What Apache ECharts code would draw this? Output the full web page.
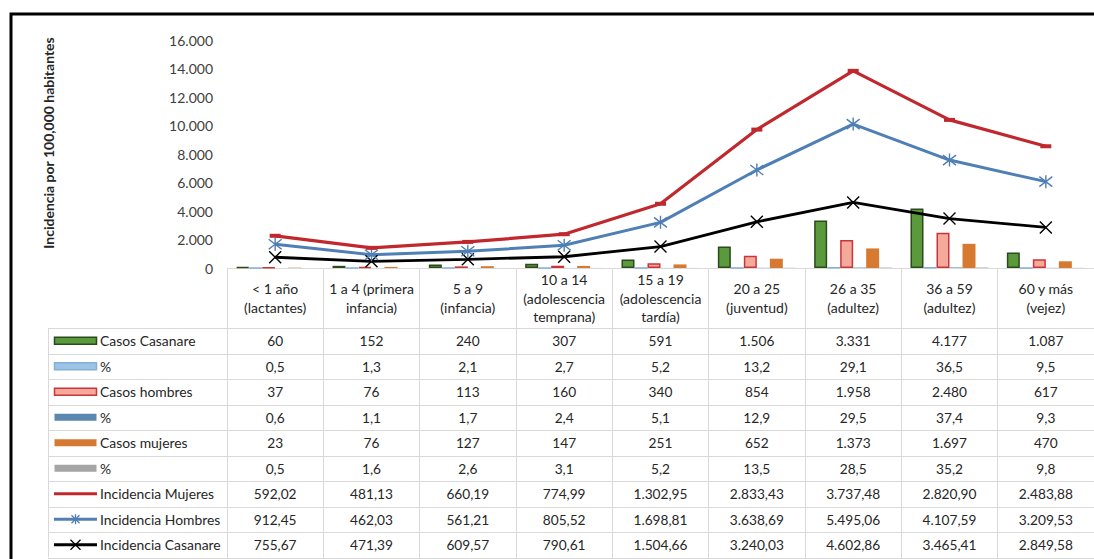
<!DOCTYPE html>
<html>
<head>
<meta charset="utf-8">
<script src="https://cdn.jsdelivr.net/npm/echarts@6/dist/echarts.min.js"></script>
<style>
html,body{margin:0;padding:0;background:#fff;}
#c{width:1094px;height:559px;}
</style>
</head>
<body>
<div id="c"></div>
<script>
const categories = ['< 1 año\n(lactantes)', '1 a 4 (primera\ninfancia)', '5 a 9\n(infancia)', '10 a 14\n(adolescencia\ntemprana)', '15 a 19\n(adolescencia\ntardía)', '20 a 25\n(juventud)', '26 a 35\n(adultez)', '36 a 59\n(adultez)', '60 y más\n(vejez)'];
const casosCasanare = [60, 152, 240, 307, 591, 1506, 3331, 4177, 1087];
const pctCasanare = [0.5, 1.3, 2.1, 2.7, 5.2, 13.2, 29.1, 36.5, 9.5];
const casosHombres = [37, 76, 113, 160, 340, 854, 1958, 2480, 617];
const pctHombres = [0.6, 1.1, 1.7, 2.4, 5.1, 12.9, 29.5, 37.4, 9.3];
const casosMujeres = [23, 76, 127, 147, 251, 652, 1373, 1697, 470];
const pctMujeres = [0.5, 1.6, 2.6, 3.1, 5.2, 13.5, 28.5, 35.2, 9.8];
const incMujeres = [592.02, 481.13, 660.19, 774.99, 1302.95, 2833.43, 3737.48, 2820.90, 2483.88];
const incHombres = [912.45, 462.03, 561.21, 805.52, 1698.81, 3638.69, 5495.06, 4107.59, 3209.53];
const incCasanare = [755.67, 471.39, 609.57, 790.61, 1504.66, 3240.03, 4602.86, 3465.41, 2849.58];
const yTicks = [0, 2000, 4000, 6000, 8000, 10000, 12000, 14000, 16000];

const FONT = 'Lato, "Open Sans", sans-serif';
const C = {
  green: '#5a9a3c', greenB: '#2c4a1c',
  lblue: '#9dc3e6', lblueB: '#86afd6',
  pink: '#f4a99a', pinkB: '#c8363a',
  blue: '#5a87b0',
  orange: '#d57a30',
  gray: '#a5a5a5',
  red: '#c0282d', lineBlue: '#4f7fb4', black: '#000000'
};

function fmt(v, d) {
  const s = v.toFixed(d);
  let parts = s.split('.');
  let i = parts[0].replace(/\B(?=(\d{3})+(?!\d))/g, '.');
  return parts.length > 1 ? i + ',' + parts[1] : i;
}

const rows = [
  {name: 'Casos Casanare', data: casosCasanare, d: 0, kind: 'bar', fill: C.green, border: C.greenB},
  {name: '%', data: pctCasanare, d: 1, kind: 'bar', fill: C.lblue, border: C.lblueB},
  {name: 'Casos hombres', data: casosHombres, d: 0, kind: 'bar', fill: C.pink, border: C.pinkB},
  {name: '%', data: pctHombres, d: 1, kind: 'bar', fill: C.blue, border: null},
  {name: 'Casos mujeres', data: casosMujeres, d: 0, kind: 'bar', fill: C.orange, border: null},
  {name: '%', data: pctMujeres, d: 1, kind: 'bar', fill: C.gray, border: null},
  {name: 'Incidencia Mujeres', data: incMujeres, d: 2, kind: 'line', color: C.red, mark: 'none'},
  {name: 'Incidencia Hombres', data: incHombres, d: 2, kind: 'line', color: C.lineBlue, mark: 'star'},
  {name: 'Incidencia Casanare', data: incCasanare, d: 2, kind: 'line', color: C.black, mark: 'x'}
];

const STAR = 'path://M0,0L10,10M10,0L0,10M5,-1.5L5,11.5';
const XS = 'path://M0,0L10,10M10,0L0,10';

function barSeries(name, data, fill, border) {
  return {
    type: 'bar', name: name, data: data, barWidth: 13, barGap: '0%',
    itemStyle: {color: fill, borderColor: border || fill, borderWidth: border ? 1.5 : 0},
    silent: true
  };
}

const option = {
  animation: false,
  backgroundColor: '#ffffff',
  textStyle: {fontFamily: FONT},
  grid: {left: 227, top: 40, width: 876, height: 228, containLabel: false},
  xAxis: {
    type: 'category',
    data: categories,
    boundaryGap: true,
    axisLine: {show: true, lineStyle: {color: '#d9d9d9', width: 1}},
    axisTick: {show: true, length: 290, lineStyle: {color: '#d9d9d9', width: 1}},
    axisLabel: {
      interval: 0, color: '#262626', fontSize: 14, lineHeight: 18.5,
      margin: 30, verticalAlign: 'middle', fontFamily: FONT
    }
  },
  yAxis: {
    type: 'value', min: 0, max: 16000, interval: 2000,
    axisLine: {show: false}, axisTick: {show: false}, splitLine: {show: false},
    axisLabel: {
      color: '#404040', fontSize: 14, margin: 14, fontFamily: FONT,
      formatter: function (v) { return fmt(v, 0); }
    }
  },
  series: [
    barSeries('Casos Casanare', casosCasanare, C.green, C.greenB),
    barSeries('% Casanare', pctCasanare, C.lblue, C.lblueB),
    barSeries('Casos hombres', casosHombres, C.pink, C.pinkB),
    barSeries('% hombres', pctHombres, C.blue, null),
    barSeries('Casos mujeres', casosMujeres, C.orange, null),
    barSeries('% mujeres', pctMujeres, C.gray, null),
    {
      type: 'line', name: 'Incidencia Casanare', data: incCasanare, stack: 'inc', z: 5,
      lineStyle: {color: C.black, width: 2.8}, symbol: XS, symbolSize: 12,
      itemStyle: {color: C.black, borderColor: C.black, borderWidth: 1.4}, silent: true
    },
    {
      type: 'line', name: 'Incidencia Hombres', data: incHombres, stack: 'inc', z: 5,
      lineStyle: {color: C.lineBlue, width: 3}, symbol: STAR, symbolSize: 13,
      itemStyle: {color: C.lineBlue, borderColor: C.lineBlue, borderWidth: 1.4}, silent: true
    },
    {
      type: 'line', name: 'Incidencia Mujeres', data: incMujeres, stack: 'inc', z: 5,
      lineStyle: {color: C.red, width: 3.2}, symbol: 'rect', symbolSize: [11, 4],
      itemStyle: {color: C.red}, silent: true
    }
  ]
};

const chart = echarts.init(document.getElementById('c'), null, {renderer: 'svg'});
chart.setOption(option);

// Build the data table below the axis
const g = [];
const rowTop = 328, rowH = 25.5, leftX = 48, rightX = 1103;
const xs = categories.map(function (c, i) { return chart.convertToPixel({xAxisIndex: 0}, i); });

function seg(x1, y1, x2, y2, color, w) {
  g.push({type: 'line', silent: true, shape: {x1: x1, y1: y1, x2: x2, y2: y2}, style: {stroke: color, lineWidth: w}});
}

// frame
g.push({type: 'polyline', silent: true, shape: {points: [[11, 560], [11, 14], [1094, 14]]}, style: {stroke: '#000', lineWidth: 3, fill: null}});
// y axis title
g.push({type: 'text', silent: true, x: 48, y: 143, rotation: Math.PI / 2,
  style: {text: 'Incidencia por 100,000 habitantes', fontSize: 14, fontWeight: 'bold', fontFamily: FONT, fill: '#262626', align: 'center', verticalAlign: 'middle'}});
// table horizontal lines
for (let r = 0; r <= rows.length; r++) {
  const y = Math.round(rowTop + r * rowH) + 0.5;
  seg(leftX, y, rightX, y, '#d9d9d9', 1);
}
seg(leftX + 0.5, rowTop, leftX + 0.5, rowTop + rows.length * rowH, '#d9d9d9', 1);

rows.forEach(function (row, r) {
  const cy = rowTop + (r + 0.5) * rowH;
  // legend key
  if (row.kind === 'bar') {
    g.push({type: 'rect', silent: true, shape: {x: 54.5, y: cy - 3.5, width: 42, height: 7},
      style: {fill: row.fill, stroke: row.border || row.fill, lineWidth: row.border ? 1.5 : 0}});
  } else {
    seg(54, cy, 97, cy, row.color, 3);
    if (row.mark === 'star') {
      seg(71.5, cy - 4, 79.5, cy + 4, row.color, 1.3);
      seg(79.5, cy - 4, 71.5, cy + 4, row.color, 1.3);
      seg(75.5, cy - 5, 75.5, cy + 5, row.color, 1.3);
    } else if (row.mark === 'x') {
      seg(70.5, cy - 5, 80.5, cy + 5, row.color, 1.3);
      seg(80.5, cy - 5, 70.5, cy + 5, row.color, 1.3);
    }
  }
  g.push({type: 'text', silent: true, x: 100, y: cy,
    style: {text: row.name, fontSize: 13.9, fontFamily: FONT, fill: '#262626', align: 'left', verticalAlign: 'middle'}});
  row.data.forEach(function (v, i) {
    g.push({type: 'text', silent: true, x: xs[i], y: cy,
      style: {text: fmt(v, row.d), fontSize: 13.7, fontFamily: FONT, fill: '#262626', align: 'center', verticalAlign: 'middle'}});
  });
});

chart.setOption({graphic: {elements: g}});
</script>
</body>
</html>
